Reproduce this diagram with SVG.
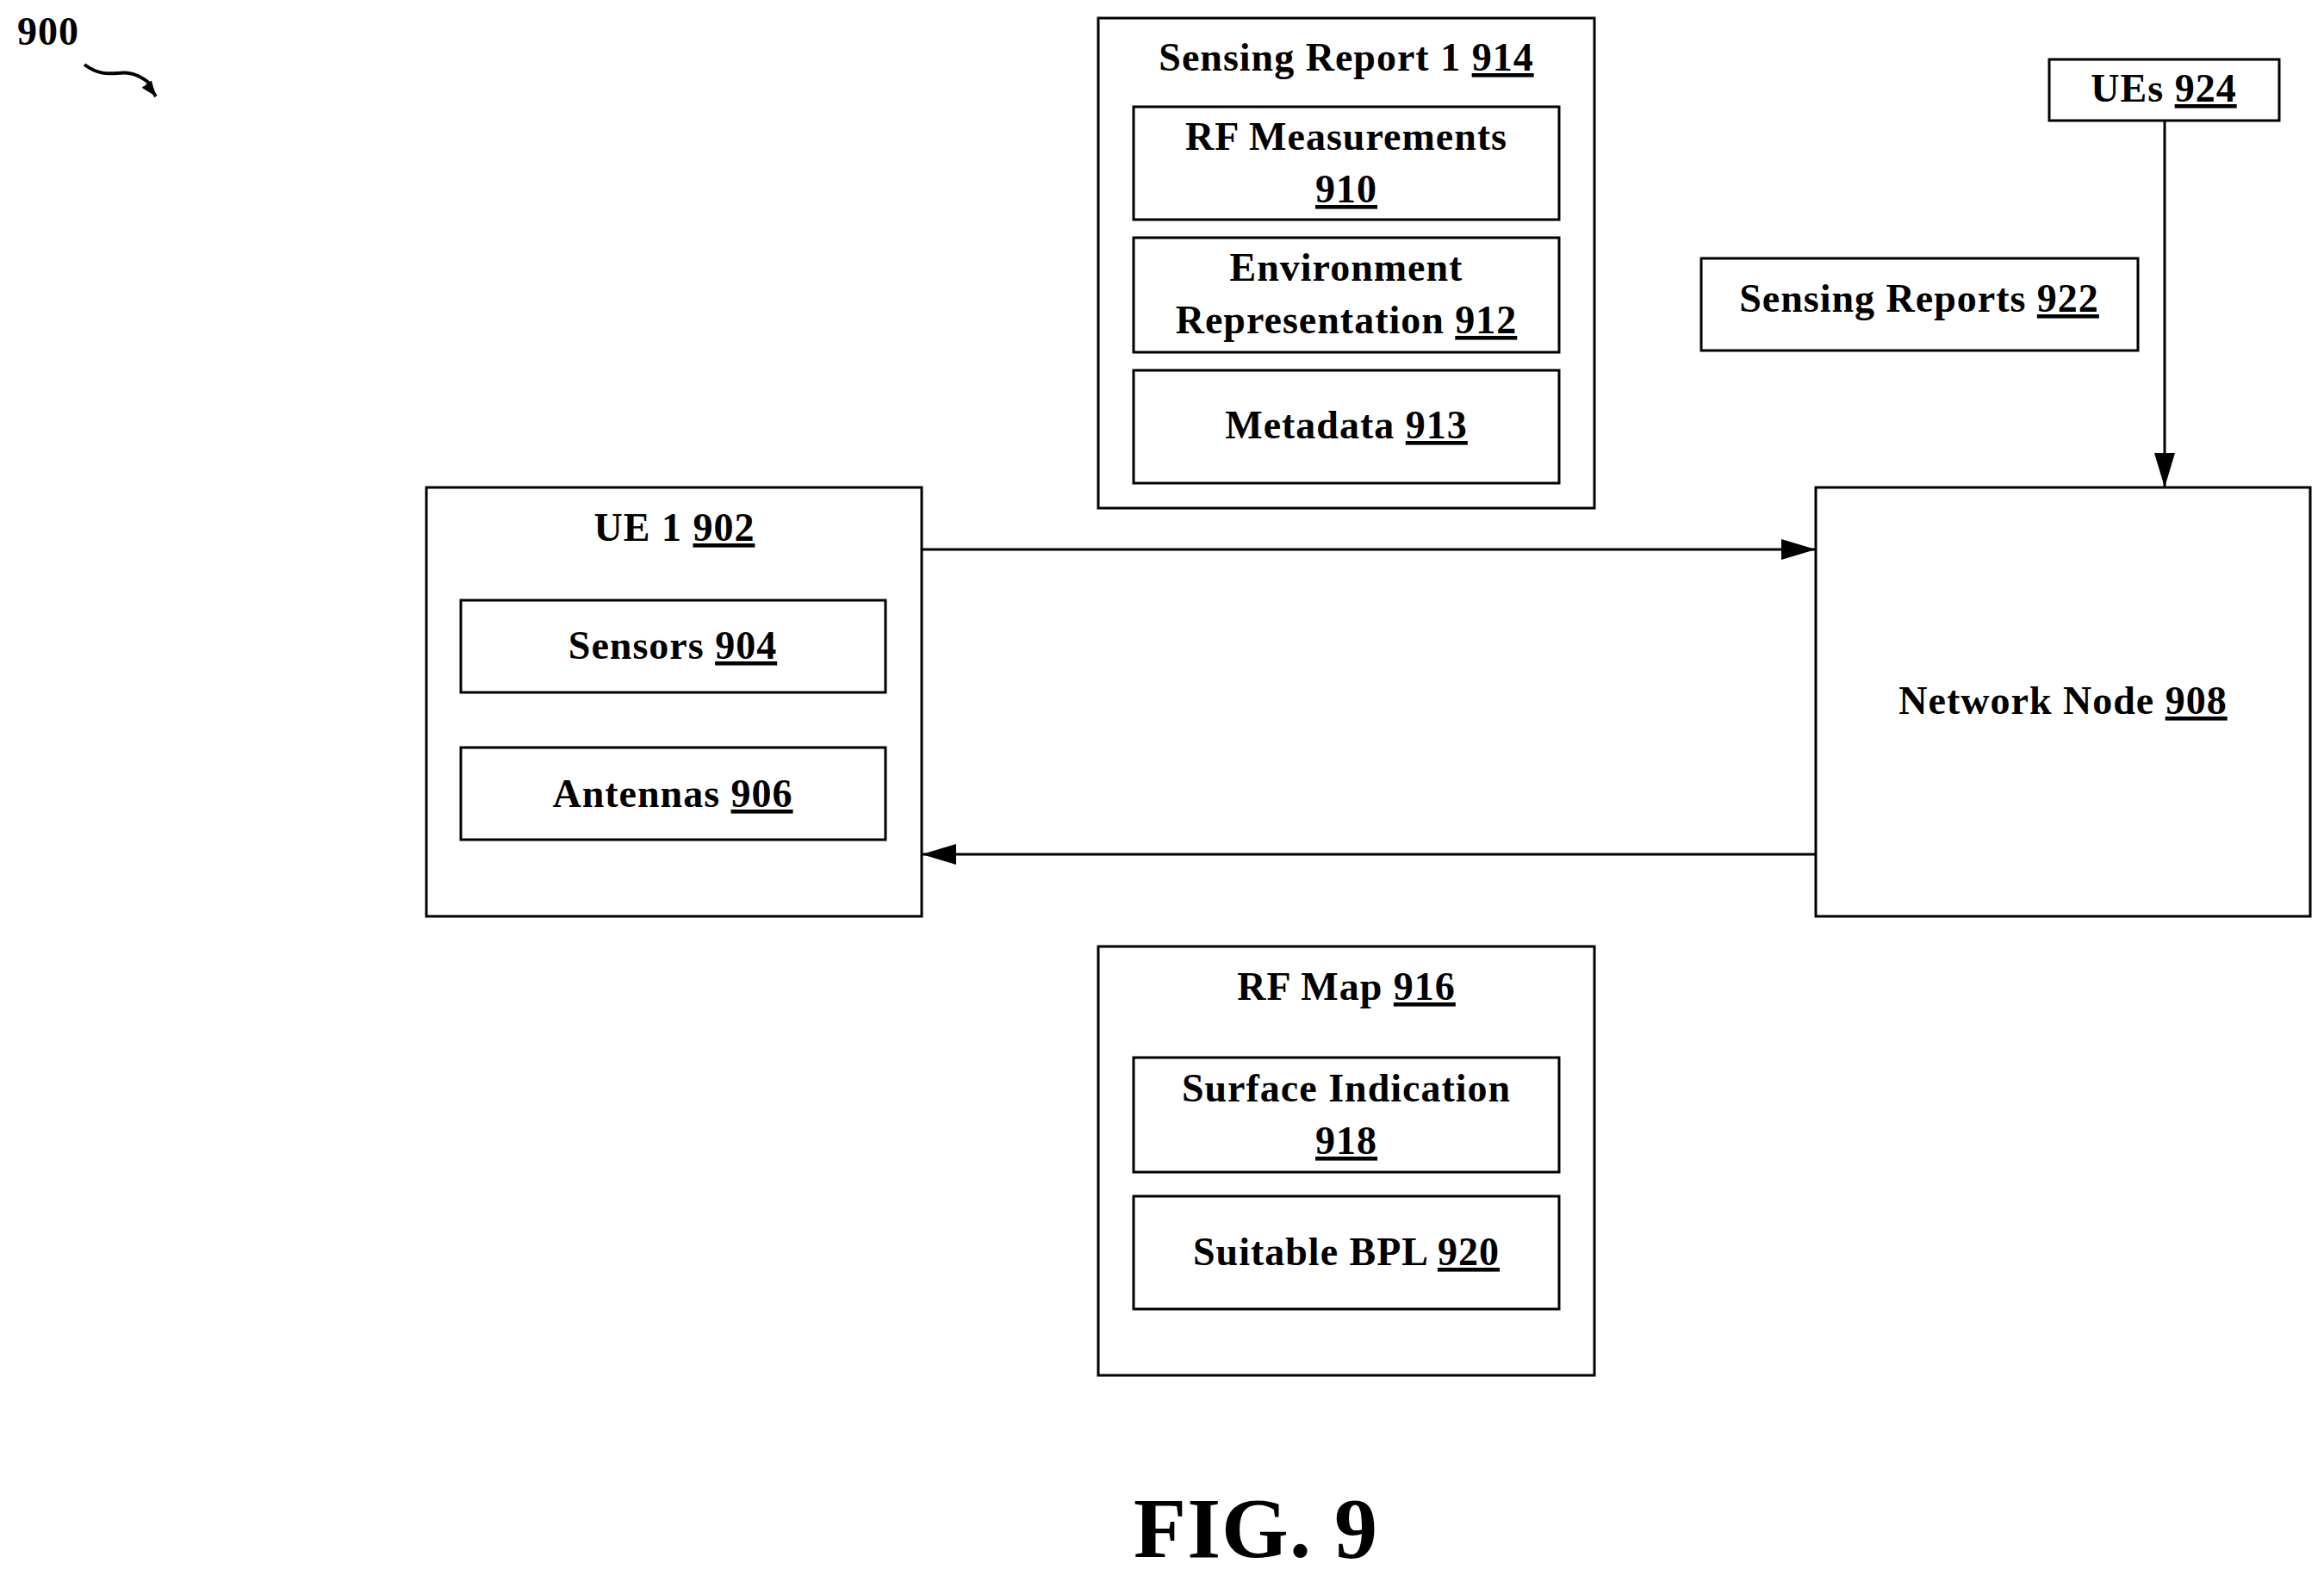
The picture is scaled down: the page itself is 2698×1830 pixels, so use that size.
<svg xmlns="http://www.w3.org/2000/svg" width="2698" height="1830" viewBox="0 0 2698 1830">
<style>
rect{fill:#fff;stroke:#000;stroke-width:3}
text{font-family:"Liberation Serif",serif;font-weight:bold;font-size:46px;letter-spacing:1px;text-anchor:middle;fill:#000}
.u{text-decoration:underline}
.c{stroke:#000;stroke-width:3;fill:none}
</style>
<defs><marker id="a" markerWidth="18" markerHeight="14" refX="18" refY="7" orient="auto" markerUnits="userSpaceOnUse"><path d="M0,0L18,7L0,14Z" fill="#000"/></marker>
<marker id="b" markerWidth="40" markerHeight="24" refX="40" refY="12" orient="auto" markerUnits="userSpaceOnUse"><path d="M0,0L40,12L0,24Z" fill="#000"/></marker></defs>
<rect width="2698" height="1830" style="stroke:none"/>
<text x="20" y="52" style="text-anchor:start">900</text>
<path class="c" style="stroke-width:4" d="M98,75 C125,95 140,78 160,88 S172,100 181,112" marker-end="url(#a)"/>
<g id="ue1"><rect x="495" y="566" width="575" height="498"/><text x="783" y="628">UE 1 <tspan class="u">902</tspan></text></g>
<g id="sensors"><rect x="535" y="697" width="493" height="107"/><text x="781" y="765">Sensors <tspan class="u">904</tspan></text></g>
<g id="antennas"><rect x="535" y="868" width="493" height="107"/><text x="781" y="937">Antennas <tspan class="u">906</tspan></text></g>
<g id="nn"><rect x="2108" y="566" width="574" height="498"/><text x="2395" y="829">Network Node <tspan class="u">908</tspan></text></g>
<g id="sr1"><rect x="1275" y="21" width="576" height="569"/><text x="1563" y="82">Sensing Report 1 <tspan class="u">914</tspan></text></g>
<g id="rfm"><rect x="1316" y="124" width="494" height="131"/><text x="1563" y="174">RF Measurements</text><text x="1563" y="235" class="u">910</text></g>
<g id="env"><rect x="1316" y="276" width="494" height="133"/><text x="1563" y="326">Environment</text><text x="1563" y="387">Representation <tspan class="u">912</tspan></text></g>
<g id="meta"><rect x="1316" y="430" width="494" height="131"/><text x="1563" y="509">Metadata <tspan class="u">913</tspan></text></g>
<g id="rfmap"><rect x="1275" y="1099" width="576" height="498"/><text x="1563" y="1161">RF Map <tspan class="u">916</tspan></text></g>
<g id="surf"><rect x="1316" y="1228" width="494" height="133"/><text x="1563" y="1279">Surface Indication</text><text x="1563" y="1340" class="u">918</text></g>
<g id="bpl"><rect x="1316" y="1389" width="494" height="131"/><text x="1563" y="1469">Suitable BPL <tspan class="u">920</tspan></text></g>
<g id="srs"><rect x="1975" y="300" width="507" height="107"/><text x="2228" y="362">Sensing Reports <tspan class="u">922</tspan></text></g>
<g id="ues"><rect x="2379" y="69" width="267" height="71"/><text x="2512" y="118">UEs <tspan class="u">924</tspan></text></g>
<g id="connectors">
<line class="c" x1="2513" y1="140" x2="2513" y2="566" marker-end="url(#b)"/>
<line class="c" x1="1070" y1="638" x2="2108" y2="638" marker-end="url(#b)"/>
<line class="c" x1="2108" y1="992" x2="1070" y2="992" marker-end="url(#b)"/>
</g>
<text x="1458" y="1808" style="font-size:100px">FIG. 9</text>
</svg>
